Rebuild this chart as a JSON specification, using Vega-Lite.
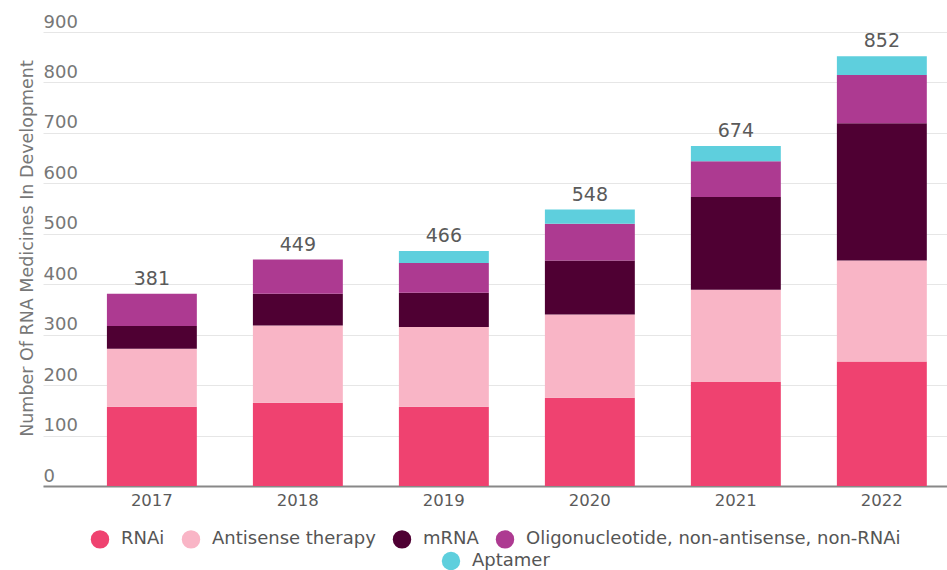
{
  "$schema": "https://vega.github.io/schema/vega-lite/v6.json",
  "width": 904,
  "height": 454,
  "autosize": "none",
  "padding": {"left": 43, "top": 32, "right": 0, "bottom": 84},
  "background": "white",
  "data": {
    "values": [
      {"year": "2017", "type": "RNAi", "value": 157},
      {"year": "2017", "type": "Antisense therapy", "value": 115},
      {"year": "2017", "type": "mRNA", "value": 45},
      {"year": "2017", "type": "Oligonucleotide, non-antisense, non-RNAi", "value": 64},
      {"year": "2018", "type": "RNAi", "value": 165},
      {"year": "2018", "type": "Antisense therapy", "value": 153},
      {"year": "2018", "type": "mRNA", "value": 63},
      {"year": "2018", "type": "Oligonucleotide, non-antisense, non-RNAi", "value": 68},
      {"year": "2019", "type": "RNAi", "value": 157},
      {"year": "2019", "type": "Antisense therapy", "value": 158},
      {"year": "2019", "type": "mRNA", "value": 68},
      {"year": "2019", "type": "Oligonucleotide, non-antisense, non-RNAi", "value": 59},
      {"year": "2019", "type": "Aptamer", "value": 24},
      {"year": "2020", "type": "RNAi", "value": 175},
      {"year": "2020", "type": "Antisense therapy", "value": 165},
      {"year": "2020", "type": "mRNA", "value": 107},
      {"year": "2020", "type": "Oligonucleotide, non-antisense, non-RNAi", "value": 73},
      {"year": "2020", "type": "Aptamer", "value": 28},
      {"year": "2021", "type": "RNAi", "value": 206},
      {"year": "2021", "type": "Antisense therapy", "value": 183},
      {"year": "2021", "type": "mRNA", "value": 184},
      {"year": "2021", "type": "Oligonucleotide, non-antisense, non-RNAi", "value": 71},
      {"year": "2021", "type": "Aptamer", "value": 30},
      {"year": "2022", "type": "RNAi", "value": 247},
      {"year": "2022", "type": "Antisense therapy", "value": 200},
      {"year": "2022", "type": "mRNA", "value": 272},
      {"year": "2022", "type": "Oligonucleotide, non-antisense, non-RNAi", "value": 96},
      {"year": "2022", "type": "Aptamer", "value": 37}
    ]
  },
  "transform": [
    {"calculate": "indexof(['RNAi','Antisense therapy','mRNA','Oligonucleotide, non-antisense, non-RNAi','Aptamer'], datum.type)", "as": "ord"},
    {"stack": "value", "groupby": ["year"], "sort": [{"field": "ord", "order": "ascending"}], "as": ["y0", "y1"]}
  ],
  "encoding": {
    "x": {
      "field": "year",
      "type": "nominal",
      "scale": {"paddingInner": 0.384, "paddingOuter": 0.288, "align": 0.76},
      "axis": {
        "title": null,
        "labelAngle": 0,
        "labelFontSize": 16.5,
        "labelColor": "#5a5a5a",
        "labelPadding": 6,
        "ticks": false,
        "domainColor": "#888888",
        "domainWidth": 2,
        "grid": false
      }
    }
  },
  "layer": [
    {
      "transform": [{"filter": "datum.type !== 'Aptamer'"}],
      "mark": {"type": "bar"},
      "encoding": {
        "y": {
          "field": "y1",
          "type": "quantitative",
          "scale": {"domain": [0, 900], "nice": false},
          "axis": {
            "title": "Number Of RNA Medicines In Development",
            "titleFontSize": 17.5,
            "titleFontWeight": "normal",
            "titleColor": "#777777",
            "titleX": -16,
            "titleY": 216,
            "titleBaseline": "middle",
            "values": [0, 100, 200, 300, 400, 500, 600, 700, 800, 900],
            "labelAlign": "left",
            "labelBaseline": "alphabetic",
            "labelOffset": -5,
            "labelPadding": 0,
            "tickSize": 0,
            "ticks": false,
            "domain": false,
            "labelFontSize": 18,
            "labelColor": "#777777",
            "grid": true,
            "gridColor": "#e6e6e6",
            "gridWidth": 1,
            "zindex": 0
          }
        },
        "y2": {"field": "y0"},
        "color": {
          "field": "type",
          "type": "nominal",
          "scale": {
            "domain": ["RNAi", "Antisense therapy", "mRNA", "Oligonucleotide, non-antisense, non-RNAi"],
            "range": ["#ef4270", "#f9b5c6", "#4f0033", "#ad3a91"]
          },
          "legend": {
            "title": null,
            "orient": "bottom",
            "direction": "horizontal",
            "symbolType": "circle",
            "symbolSize": 340,
            "symbolOpacity": 1,
            "labelFontSize": 18,
            "labelLimit": 0,
            "labelColor": "#555555",
            "labelOffset": 11,
            "columnPadding": 16,
            "offset": 20
          }
        }
      }
    },
    {
      "transform": [{"filter": "datum.type === 'Aptamer'"}],
      "mark": {"type": "bar"},
      "encoding": {
        "y": {"field": "y1", "type": "quantitative"},
        "y2": {"field": "y0"},
        "fill": {
          "field": "type",
          "type": "nominal",
          "scale": {"domain": ["Aptamer"], "range": ["#5ecfdd"]},
          "legend": {
            "title": null,
            "orient": "bottom",
            "direction": "horizontal",
            "symbolType": "circle",
            "symbolSize": 340,
            "symbolOpacity": 1,
            "labelFontSize": 18,
            "labelLimit": 0,
            "labelColor": "#555555",
            "labelOffset": 11,
            "offset": 20
          }
        }
      }
    },
    {
      "transform": [{"aggregate": [{"op": "sum", "field": "value", "as": "total"}], "groupby": ["year"]}],
      "mark": {"type": "text", "dy": -9, "baseline": "alphabetic", "fontSize": 19, "color": "#5a5a5a"},
      "encoding": {
        "y": {"field": "total", "type": "quantitative"},
        "text": {"field": "total", "type": "quantitative"}
      }
    }
  ],
  "config": {
    "font": "DejaVu Sans",
    "view": {"stroke": null},
    "legend": {
      "layout": {"bottom": {"anchor": "middle", "direction": "vertical", "center": true, "margin": 2}}
    }
  }
}
